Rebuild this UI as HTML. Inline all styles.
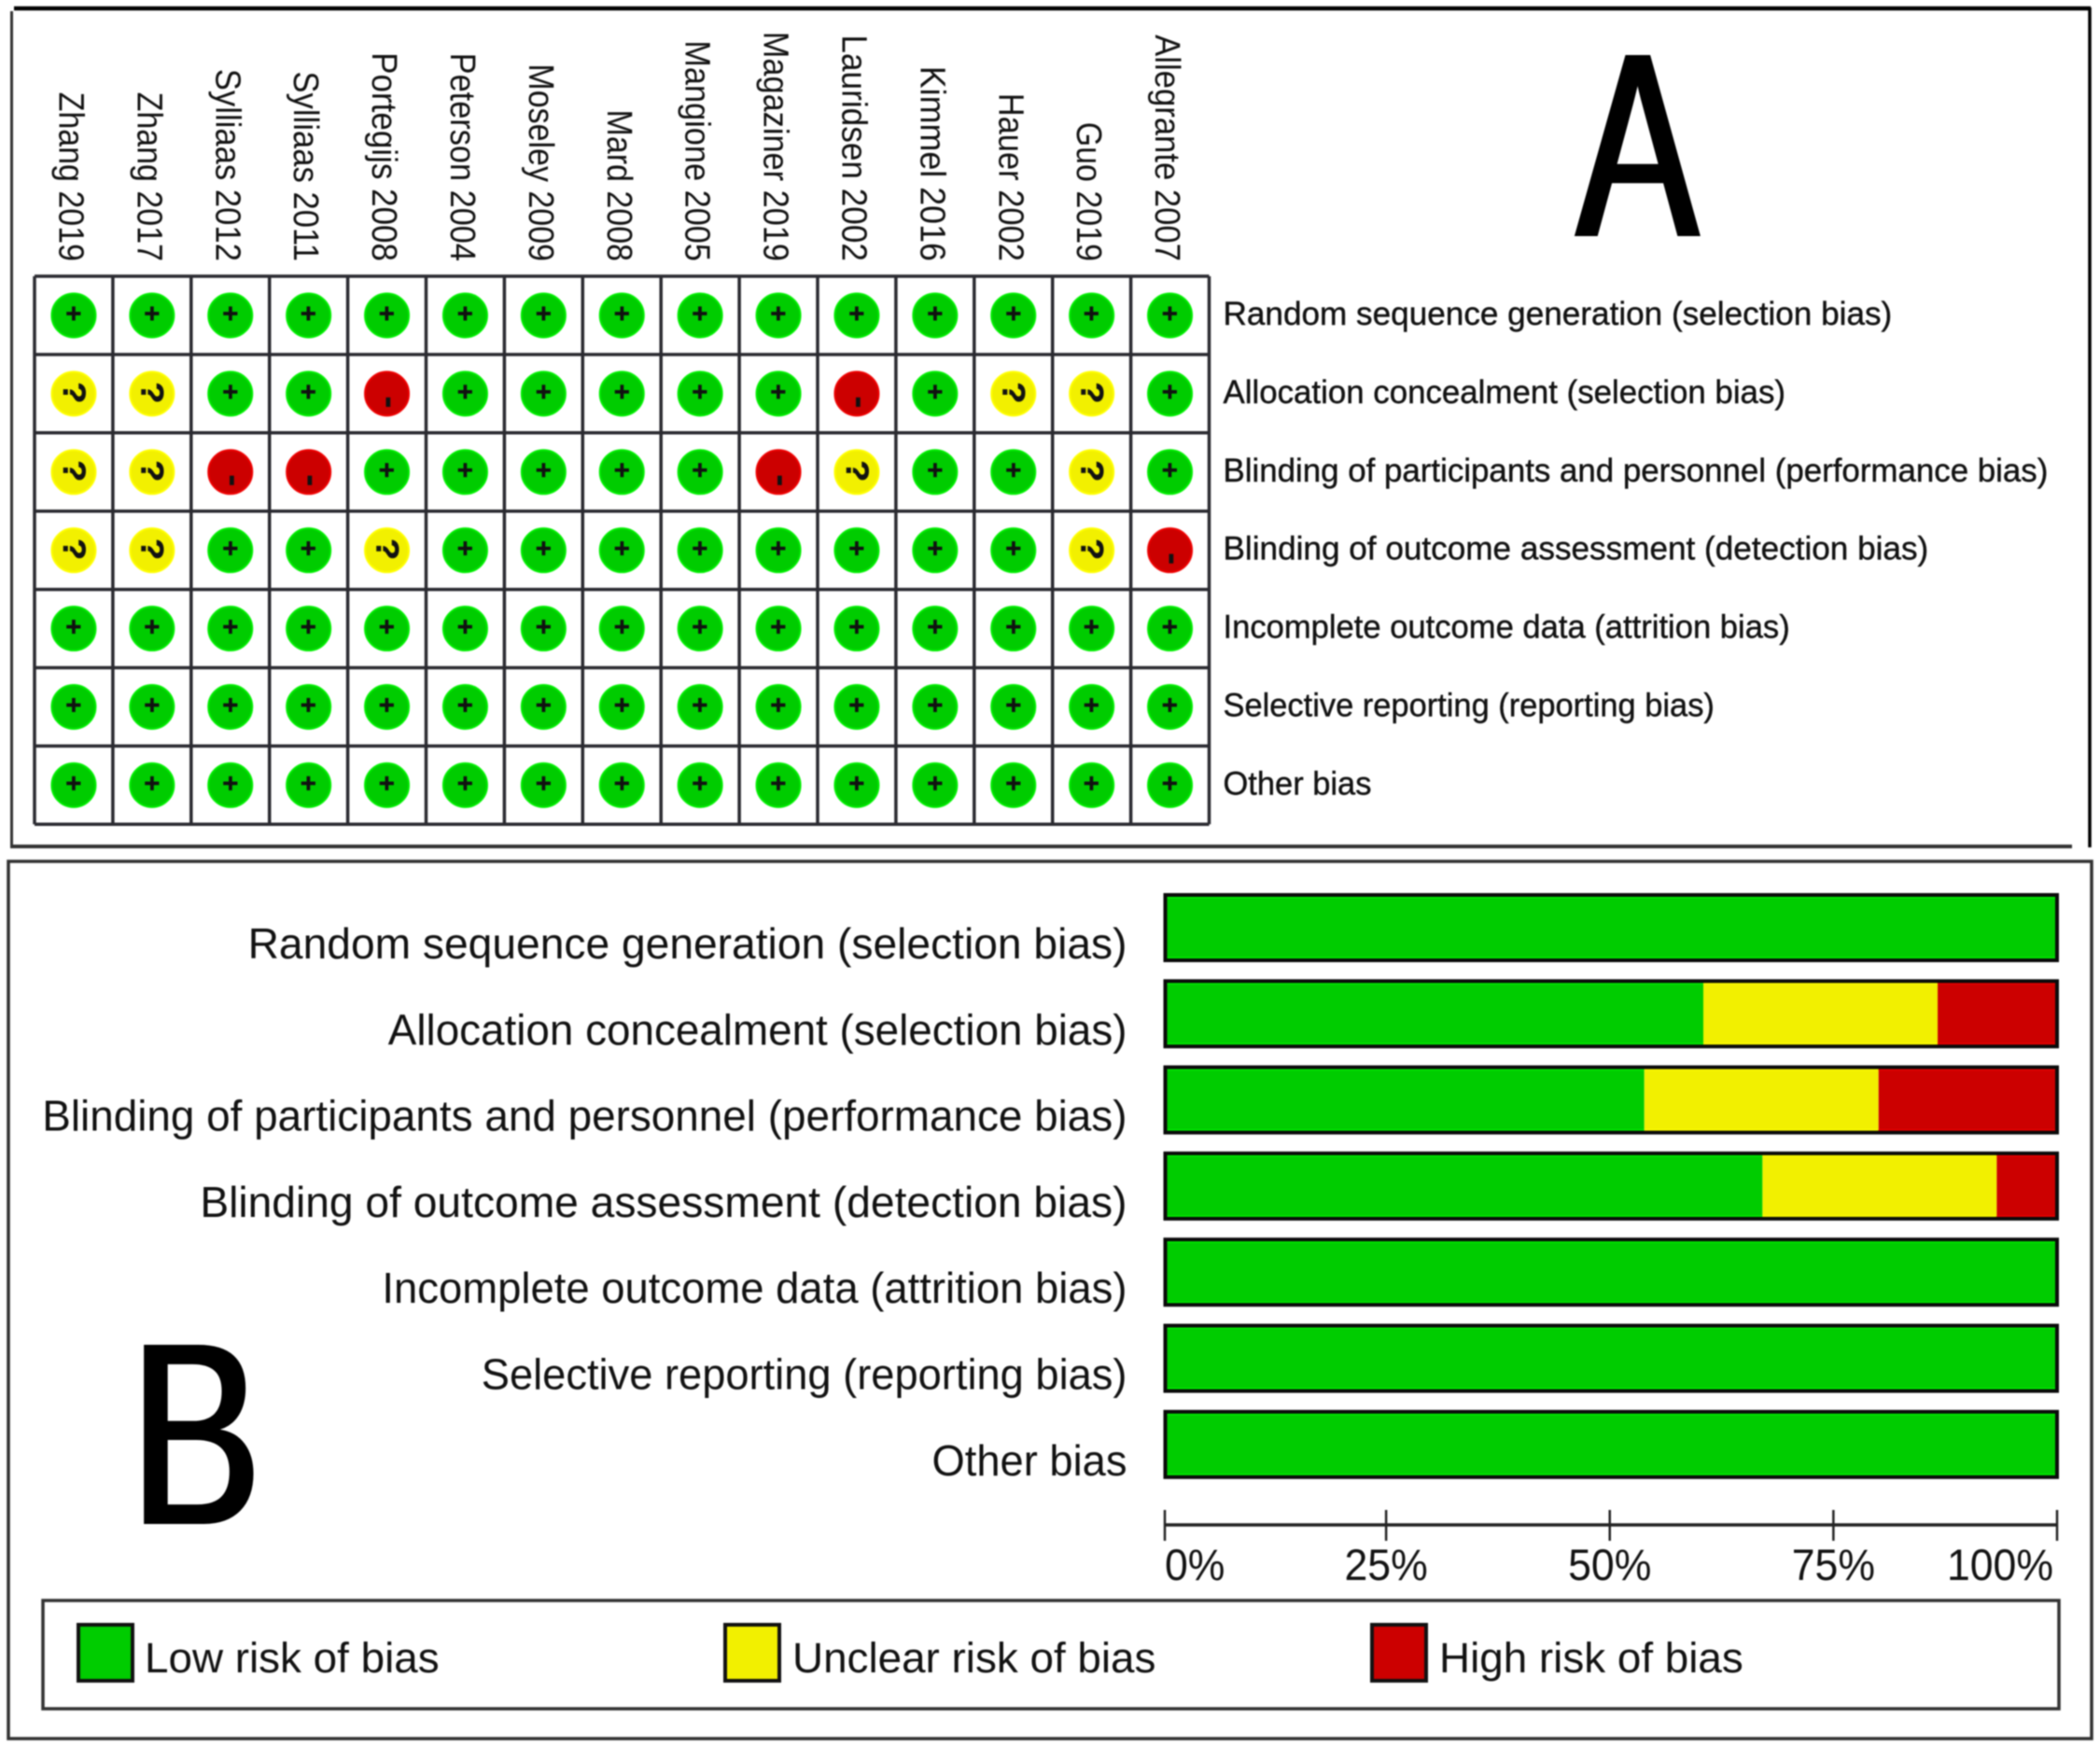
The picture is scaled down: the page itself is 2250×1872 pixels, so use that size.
<!DOCTYPE html>
<html lang="en">
<head>
<meta charset="utf-8">
<title>Risk of bias summary and graph</title>
<style>
  html, body { margin: 0; padding: 0; background: #fff; }
  #figure { display: block; width: 2250px; height: 1872px; background: #fff; filter: blur(0.9px); }
  text { font-family: "Liberation Sans", sans-serif; fill: #111; }
</style>
</head>
<body>
<svg id="figure" xmlns="http://www.w3.org/2000/svg" width="2250" height="1872" viewBox="0 0 2250 1872">
  <defs>
    <filter id="widen" x="-10%" y="-10%" width="120%" height="120%">
      <feMorphology operator="dilate" radius="4 0"/>
    </filter>
  </defs>
  <g fill="none">
    <line x1="15" y1="9" x2="2240" y2="9" stroke="#000" stroke-width="4.5"/>
    <line x1="2239" y1="8" x2="2239" y2="908" stroke="#000" stroke-width="3.5"/>
    <line x1="12.5" y1="12" x2="12.5" y2="908" stroke="#333" stroke-width="3"/>
    <line x1="11" y1="907" x2="2220" y2="907" stroke="#333" stroke-width="4"/>
  </g>
  <g>
    <rect x="9" y="923" width="2232" height="940" fill="none" stroke="#333" stroke-width="3.5"/>
  </g>
  <text transform="translate(1689.5,253) scale(0.69,1)" font-size="282" filter="url(#widen)" style="fill:#000">A</text>
  <text transform="translate(140,1633) scale(0.75,1)" font-size="279" filter="url(#widen)" style="fill:#000">B</text>
  <g id="summary"></g>
  <g id="graph"></g>
  <g>
    <rect x="46" y="1715" width="2160" height="116" fill="none" stroke="#333" stroke-width="3.5"/>
    <g>
      <rect x="84" y="1741" width="58" height="60" fill="#00cc00" stroke="#111" stroke-width="4"/>
      <text x="155" y="1792" font-size="45.8">Low risk of bias</text>
    </g>
    <g>
      <rect x="777" y="1741" width="58" height="60" fill="#f2f000" stroke="#111" stroke-width="4"/>
      <text x="849" y="1792" font-size="45.8">Unclear risk of bias</text>
    </g>
    <g>
      <rect x="1470" y="1741" width="58" height="60" fill="#cc0000" stroke="#111" stroke-width="4"/>
      <text x="1542" y="1792" font-size="45.8">High risk of bias</text>
    </g>
  </g>
</svg>
<script>
// ---- chart data ----
const studies = ["Zhang 2019", "Zhang 2017", "Sylliaas 2012", "Sylliaas 2011", "Portegijs 2008", "Peterson 2004", "Moseley 2009", "Mard 2008", "Mangione 2005", "Magaziner 2019", "Lauridsen 2002", "Kimmel 2016", "Hauer 2002", "Guo 2019", "Allegrante 2007"];
const domains = ["Random sequence generation (selection bias)", "Allocation concealment (selection bias)", "Blinding of participants and personnel (performance bias)", "Blinding of outcome assessment (detection bias)", "Incomplete outcome data (attrition bias)", "Selective reporting (reporting bias)", "Other bias"];
const judgementsRandom     = ["+","+","+","+","+","+","+","+","+","+","+","+","+","+","+"];
const judgementsAllocation = ["?","?","+","+","-","+","+","+","+","+","-","+","?","?","+"];
const judgementsBlindingP  = ["?","?","-","-","+","+","+","+","+","-","?","+","+","?","+"];
const judgementsBlindingO  = ["?","?","+","+","?","+","+","+","+","+","+","+","+","?","-"];
const judgementsIncomplete = ["+","+","+","+","+","+","+","+","+","+","+","+","+","+","+"];
const judgementsSelective  = ["+","+","+","+","+","+","+","+","+","+","+","+","+","+","+"];
const judgementsOther      = ["+","+","+","+","+","+","+","+","+","+","+","+","+","+","+"];
const judgements = [judgementsRandom, judgementsAllocation, judgementsBlindingP, judgementsBlindingO, judgementsIncomplete, judgementsSelective, judgementsOther];
const lowRisk     = [100, 60.46, 53.86, 67.07, 100, 100, 100];
const unclearRisk = [0, 26.19, 26.19, 26.19, 0, 0, 0];
const highRisk    = [0, 13.35, 19.95, 6.74, 0, 0, 0];
const tickValues  = [0, 25, 50, 75, 100];
const tickLabels  = ["0%", "25%", "50%", "75%", "100%"];

// ---- scales ----
const NS = "http://www.w3.org/2000/svg";
const gridLeft = 37, gridTop = 296, cell = 83.9;
const colX = i => gridLeft + cell * (i + 0.5);
const rowY = i => gridTop + cell * (i + 0.5);
const pct = v => 1245.5 + v * 9.585;
const clampX = x => Math.max(x, 1248);
const barTop = i => 958 + i * 92.3;
const barHeight = 72;

// text-fit factors that compensate for font width differences
const studyFit = [1, 1, 1.02, 1.02, 1.03, 1.01, 1, 1, 1.01, 1.01, 1.035, 1.055, 1.015, 1, 1.02];
const domainFit = [1.004, 0.996, 0.997, 1.004, 0.988, 0.984, 0.985];

function mk(tag, attrs, parent, content) {
  const el = document.createElementNS(NS, tag);
  for (const k in attrs) el.setAttribute(k, attrs[k]);
  if (content !== undefined) el.textContent = content;
  parent.appendChild(el);
  return el;
}

// ---- panel A: summary matrix ----
const summary = document.getElementById("summary");
const symbolFill = { "+": "#00cc00", "?": "#f2f000", "-": "#cc0000" };
const symbolRing = { "+": "#00ee00", "?": "#ffff00", "-": "#ee0000" };

studies.forEach((name, c) => {
  const label = mk("text", { transform: `translate(${colX(c) - 15.5},280) rotate(90) scale(${studyFit[c]},1.12)`, "text-anchor": "end", "font-size": 34 }, summary, name);
  
  
});

for (let i = 0; i <= studies.length; i++) {
  const x = gridLeft + cell * i;
  const v = mk("line", { x1: x, y1: gridTop, x2: x, y2: gridTop + cell * domains.length, stroke: "#2a2a30", "stroke-width": 3.5 }, summary);
  
  
}
for (let i = 0; i <= domains.length; i++) {
  const y = gridTop + cell * i;
  const h = mk("line", { x1: gridLeft, y1: y, x2: gridLeft + cell * studies.length, y2: y, stroke: "#2a2a30", "stroke-width": 3.5 }, summary);
  
  
}

domains.forEach((domain, r) => {
  const label = mk("text", { transform: `translate(1310.5,${rowY(r) + 10}) scale(${domainFit[r]},1)`, "font-size": 35, stroke: "#111", "stroke-width": 0.4 }, summary, domain);
  
  
  judgements[r].forEach((j, c) => {
    const cx = colX(c), cy = rowY(r);
    const dot = mk("circle", { cx: cx, cy: cy, r: 23.5, fill: symbolFill[j], stroke: symbolRing[j], "stroke-width": 2 }, summary);
    
    
    let tf, size, base, sw;
    if (j === "+") { tf = `translate(${cx},${cy - 2}) rotate(90)`; size = 29; base = 10; sw = 0.6; }
    else if (j === "?") { tf = `translate(${cx + 1},${cy - 1}) rotate(90) scale(1,0.9)`; size = 38; base = 13.5; sw = 0.6; }
    else { tf = `translate(${cx + 1.5},${cy + 9}) rotate(90)`; size = 40; base = 10.5; sw = 0; }
    const sym = mk("text", { transform: tf, y: base, "text-anchor": "middle", "font-size": size, "font-weight": "bold", stroke: "#111", "stroke-width": sw }, summary, j);
    
    
  });
});

// ---- panel B: stacked bars ----
const graph = document.getElementById("graph");
const segColors = ["#00cc00", "#f2f000", "#cc0000"];
const segLight = ["#00f000", "#ffff00", "#ee0000"];
const segNames = ["low", "unclear", "high"];

domains.forEach((domain, r) => {
  const label = mk("text", { transform: `translate(1207.5,${1027 + r * 92.3}) scale(${domainFit[r]},1)`, "text-anchor": "end", "font-size": 46 }, graph, domain);
  
  
  const top = barTop(r);
  let acc = 0;
  [lowRisk[r], unclearRisk[r], highRisk[r]].forEach((val, s) => {
    if (val <= 0) return;
    const x0 = clampX(pct(acc)), x1 = pct(acc + val);
    const seg = mk("rect", { x: x0, y: top, width: x1 - x0, height: barHeight, fill: segColors[s] }, graph);
    
    
    const edge = mk("rect", { x: x0, y: top + 3, width: x1 - x0, height: barHeight - 6, fill: "none", stroke: segLight[s], "stroke-width": 3, "stroke-dasharray": `${x1 - x0} ${barHeight - 6}` }, graph);
    
    
    acc += val;
  });
  const outline = mk("rect", { x: clampX(pct(0)) + 0.5, y: top + 1, width: pct(100) - clampX(pct(0)) - 0.5, height: barHeight - 2, fill: "none", stroke: "#0a0a0a", "stroke-width": 4 }, graph);
  
  
});

const axisLine = mk("line", { x1: clampX(pct(0)), y1: 1634, x2: pct(100), y2: 1634, stroke: "#222", "stroke-width": 3.5 }, graph);


tickValues.forEach((v, i) => {
  const tx = clampX(pct(v));
  const t = mk("line", { x1: tx, y1: 1618, x2: tx, y2: 1651, stroke: "#222", "stroke-width": 2.5 }, graph);
  
  
  const first = i === 0, last = i === tickValues.length - 1;
  const lx = first ? tx : last ? tx - 4 : tx;
  const anchor = first ? "start" : last ? "end" : "middle";
  const tl = mk("text", { transform: `translate(${lx},1693) scale(1,1.07)`, "text-anchor": anchor, "font-size": 44.6 }, graph, tickLabels[i]);
  
  
});
</script>
</body>
</html>
